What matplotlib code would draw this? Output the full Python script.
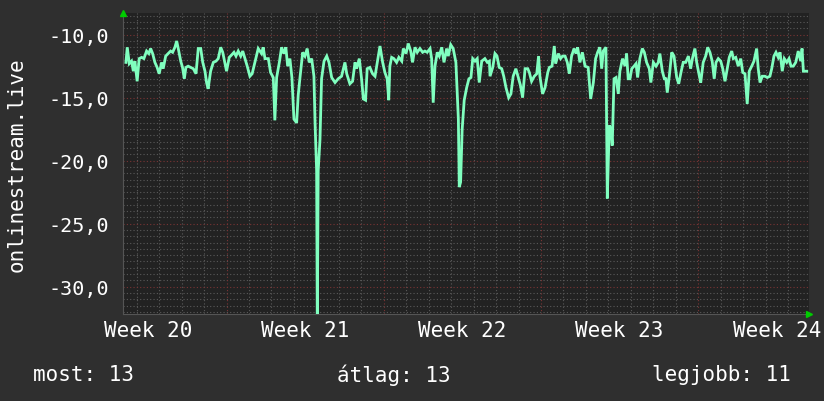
import matplotlib
matplotlib.use("Agg")
import matplotlib.pyplot as plt

# time in days relative to the "Week 20" label position
days = [-0.98, -0.92, -0.83, -0.73, -0.65, -0.58, -0.48, -0.39, -0.28, -0.18, -0.06,
        0.04, 0.12, 0.21, 0.31, 0.41, 0.50, 0.61, 0.68, 0.79, 0.90, 1.01, 1.10, 1.20,
        1.28, 1.35, 1.46, 1.54, 1.62, 1.69, 1.79, 1.90, 2.02, 2.14, 2.24, 2.35, 2.44,
        2.54, 2.61, 2.68, 2.79, 2.91, 3.03, 3.13, 3.24, 3.33, 3.43, 3.50, 3.62, 3.73,
        3.83, 3.92, 4.02, 4.13, 4.22, 4.32, 4.42, 4.54, 4.64, 4.76, 4.91, 5.06, 5.13,
        5.21, 5.36, 5.46, 5.58, 5.65, 5.73, 5.85, 5.95, 6.05, 6.14, 6.22, 6.32, 6.41,
        6.50, 6.62, 6.69, 6.77, 6.89, 6.99, 7.09, 7.18, 7.29, 7.39, 7.44, 7.51, 7.54,
        7.58, 7.66, 7.73, 7.84, 7.96, 8.06, 8.18, 8.33, 8.47, 8.62, 8.77, 8.85, 8.99,
        9.11, 9.22, 9.29, 9.41, 9.51, 9.59, 9.69, 9.76, 9.88, 10.00, 10.11, 10.21,
        10.33, 10.45, 10.55, 10.65, 10.72, 10.77, 10.85, 10.95, 11.07, 11.17, 11.30,
        11.37, 11.49, 11.59, 11.70, 11.78, 11.89, 11.99, 12.11, 12.23, 12.33, 12.43,
        12.56, 12.63, 12.70, 12.78, 12.88, 12.97, 13.08, 13.18, 13.30, 13.37, 13.48,
        13.59, 13.71, 13.82, 13.86, 13.92, 13.99, 14.08, 14.19, 14.29, 14.38, 14.46,
        14.56, 14.66, 14.75, 14.86, 15.00, 15.11, 15.20, 15.23, 15.35, 15.45, 15.54,
        15.64, 15.75, 15.84, 15.94, 16.06, 16.16, 16.26, 16.38, 16.49, 16.58, 16.68,
        16.79, 16.91, 16.98, 17.08, 17.20, 17.31, 17.39, 17.45, 17.57, 17.68, 17.80,
        17.87, 17.99, 18.09, 18.15, 18.27, 18.37, 18.46, 18.57, 18.67, 18.76, 18.86,
        18.97, 19.06, 19.13, 19.23, 19.34, 19.46, 19.60, 19.71, 19.83, 19.93, 20.02,
        20.12, 20.20, 20.27, 20.39, 20.45, 20.54, 20.61, 20.67, 20.75, 20.84, 20.94,
        21.01, 21.13, 21.24, 21.31, 21.38, 21.46, 21.54, 21.64, 21.73, 21.80, 21.90,
        22.01, 22.10, 22.20, 22.32, 22.39, 22.50, 22.62, 22.72, 22.79, 22.90, 22.99,
        23.06, 23.12, 23.21, 23.32, 23.42, 23.54, 23.63, 23.73, 23.83, 23.94, 24.06,
        24.16, 24.25, 24.35, 24.43, 24.55, 24.61, 24.72, 24.83, 24.92, 25.02, 25.12,
        25.21, 25.29, 25.39, 25.50, 25.59, 25.69, 25.79, 25.88, 25.99, 26.06, 26.17,
        26.28, 26.39, 26.48, 26.58, 26.68, 26.77, 26.88, 26.98, 27.10, 27.17, 27.25,
        27.35, 27.47, 27.57, 27.69, 27.77, 27.87, 27.96, 28.06, 28.14, 28.24, 28.33,
        28.44, 28.54, 28.63, 28.73, 28.84, 28.95, 29.06, 29.12, 29.18, 29.33]

values = [-12.2, -11.0, -12.3, -12.1, -12.9, -12.1, -13.7, -11.9, -11.8, -11.9, -11.3,
          -11.5, -11.1, -11.5, -12.2, -12.6, -13.1, -12.2, -12.7, -11.7, -11.5, -11.3,
          -11.4, -11.0, -10.5, -11.1, -12.1, -12.6, -13.5, -12.6, -12.5, -12.6, -12.7,
          -13.1, -11.1, -11.1, -12.2, -12.9, -13.8, -14.3, -12.9, -12.2, -12.1, -11.9,
          -11.0, -11.4, -12.3, -12.9, -11.8, -11.6, -11.4, -11.7, -11.3, -11.7, -11.3,
          -11.9, -12.5, -13.3, -13.1, -12.2, -11.1, -11.5, -11.0, -11.9, -11.9, -13.0,
          -13.4, -16.8, -13.4, -12.2, -11.0, -11.5, -11.0, -12.5, -11.9, -13.4, -16.7,
          -17.0, -14.8, -13.4, -11.4, -11.7, -11.1, -12.2, -11.9, -13.3, -17.0, -20.8,
          -33.0, -20.8, -18.3, -13.5, -12.1, -11.7, -12.2, -13.4, -13.8, -13.5, -13.3,
          -12.2, -13.1, -13.9, -13.7, -12.2, -12.7, -11.9, -13.5, -15.1, -15.2, -12.7,
          -12.6, -13.1, -13.3, -12.2, -10.9, -12.2, -13.0, -13.5, -15.2, -12.5, -11.8,
          -11.9, -12.2, -11.8, -12.1, -11.1, -11.5, -10.7, -11.3, -12.2, -11.0, -11.4,
          -11.1, -11.4, -11.3, -11.4, -11.1, -11.9, -15.4, -12.5, -11.4, -11.7, -11.0,
          -12.2, -11.1, -11.7, -10.8, -11.1, -12.2, -16.7, -22.1, -21.7, -17.5, -15.2,
          -14.2, -13.5, -13.4, -11.9, -12.1, -11.9, -13.8, -12.1, -11.9, -12.2, -12.1,
          -13.3, -12.6, -11.5, -11.7, -12.6, -12.7, -13.3, -14.2, -15.0, -14.7, -13.3,
          -12.7, -13.4, -14.0, -15.0, -12.7, -12.7, -13.0, -13.7, -13.3, -13.1, -11.7,
          -13.3, -14.7, -14.2, -13.0, -12.6, -12.5, -10.9, -12.3, -11.5, -11.9, -11.7,
          -11.7, -12.2, -13.1, -11.7, -11.1, -11.5, -11.0, -12.2, -11.4, -12.5, -12.6,
          -15.1, -13.8, -11.9, -11.4, -11.0, -12.7, -11.3, -11.0, -23.0, -17.2, -17.5,
          -18.8, -13.5, -13.4, -14.7, -12.9, -11.9, -12.5, -11.5, -13.5, -13.5, -12.7,
          -12.5, -12.3, -13.4, -11.9, -11.1, -11.4, -12.2, -12.7, -13.8, -12.2, -12.5,
          -12.2, -11.5, -12.9, -13.5, -13.5, -14.6, -13.3, -11.4, -11.7, -13.4, -13.9,
          -13.0, -12.2, -12.2, -11.7, -12.7, -11.8, -11.1, -12.2, -13.3, -13.8, -12.2,
          -11.7, -11.0, -11.4, -12.1, -13.5, -12.2, -11.9, -12.1, -12.7, -13.7, -12.7,
          -11.8, -11.3, -11.9, -11.8, -12.5, -11.9, -13.0, -13.1, -15.5, -12.9, -12.5,
          -12.1, -11.1, -12.7, -13.8, -13.3, -13.3, -13.4, -13.3, -12.7, -11.7, -11.4,
          -11.8, -11.4, -12.9, -11.9, -12.2, -11.9, -12.5, -12.5, -12.2, -11.3, -12.1,
          -11.1, -12.9, -12.9]

week_labels = ["Week 20", "Week 21", "Week 22", "Week 23", "Week 24"]
week_label_days = [0, 7, 14, 21, 28]
y_ticks = [-30, -25, -20, -15, -10]
y_tick_labels = ["-30,0", "-25,0", "-20,0", "-15,0", "-10,0"]
y_axis_title = "onlinestream.live"
summary = [("most: 13", "left"), ("átlag: 13", "center"), ("legjobb: 11", "right")]

BG = "#2f2f2f"
PLOT_BG = "#222222"
LINE = "#80ffbf"
MINOR = "#5a5a5a"
MAJOR = "#7a3434"
TXT = "#ffffff"
FONT = "DejaVu Sans Mono"

fig = plt.figure(figsize=(8.24, 4.02), dpi=100, facecolor=BG)
W, H = 824, 402
left, right, top, bottom = 123, 809, 14, 315
ax = fig.add_axes([left / W, 1 - bottom / H, (right - left) / W, (bottom - top) / H])
ax.set_facecolor(PLOT_BG)

ax.set_xlim(-1.11, 29.43)
ax.set_ylim(-32.17, -8.28)

# grid lines
major_x = [3.5 + 7 * k for k in range(5) if 3.5 + 7 * k < 29.43]
minor_x = [3.5 + k for k in range(-4, 26) if -1.11 < 3.5 + k < 29.43 and k % 7 != 0]
minor_y = [v / 2 for v in range(-64, -16) if v % 10 != 0]
for x in minor_x:
    ax.axvline(x, color=MINOR, lw=0.8, ls=(0, (1, 2)), zorder=1)
for y in minor_y:
    ax.axhline(y, color=MINOR, lw=0.8, ls=(0, (1, 2)), zorder=1)
for x in major_x:
    ax.axvline(x, color=MAJOR, lw=0.8, ls=(0, (1, 2)), zorder=1.5)
for y in y_ticks:
    ax.axhline(y, color=MAJOR, lw=0.8, ls=(0, (1, 2)), zorder=1.5)

ax.plot(days, values, color=LINE, lw=2.0, zorder=3, solid_joinstyle="miter")

for s in ["top", "right"]:
    ax.spines[s].set_visible(False)
ax.spines["left"].set_color("#555555")
ax.spines["bottom"].set_color("#555555")
ax.spines["left"].set_linewidth(0.8)
ax.spines["bottom"].set_linewidth(0.8)

ax.set_yticks(y_ticks)
ax.set_yticklabels(y_tick_labels, fontfamily=FONT, fontsize=14.5, color=TXT)
ax.tick_params(axis="y", length=0, pad=10)
ax.set_xticks(week_label_days)
ax.set_xticklabels(week_labels, fontfamily=FONT, fontsize=15, color=TXT)
ax.tick_params(axis="x", length=0, pad=4)

ax.set_ylabel(y_axis_title, fontfamily=FONT, fontsize=15, color=TXT, labelpad=16)

# arrows
ax.plot([-1.11], [-8.28], marker="^", color="#00cc00", ms=5, clip_on=False, zorder=5)
ax.plot([29.43], [-32.17], marker=">", color="#00cc00", ms=5, clip_on=False, zorder=5)

xs = {"left": 33 / W, "center": 394 / W, "right": 791 / W}
for text, ha in summary:
    fig.text(xs[ha], 1 - 375 / H, text, ha=ha, va="center", fontfamily=FONT,
             fontsize=15, color=TXT)

fig.savefig("out.png", dpi=100, facecolor=BG)
